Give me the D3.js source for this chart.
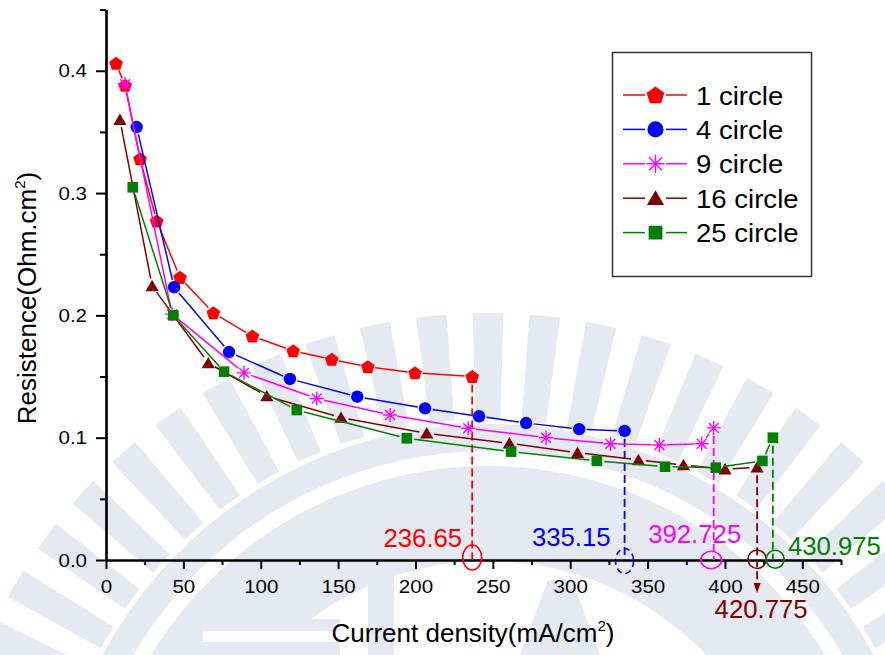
<!DOCTYPE html>
<html>
<head>
<meta charset="utf-8">
<script src="https://cdn.jsdelivr.net/npm/d3@7"></script>
<style>
  body { margin: 0; background: #ffffff; }
  svg { display: block; font-family: "Liberation Sans", Arial, Helvetica, sans-serif; }
</style>
</head>
<body>
<svg id="chart" width="885" height="655"></svg>
<script>
// ---- data -------------------------------------------------------------
const seriesNames   = ["1 circle", "4 circle", "9 circle", "16 circle", "25 circle"];
const seriesColors  = ["#ff0000", "#0000ff", "#ff00ff", "#800000", "#008000"];
const seriesSymbols = ["pentagon", "circle", "asterisk", "triangle", "square"];

// current density (mA/cm2) and resistance (Ohm.cm2) per series
const x1 = [6.5, 12.3, 22, 32.8, 47.8, 69.4, 94.6, 120.9, 145.9, 169.2, 199.7, 236.65];
const y1 = [0.406, 0.388, 0.328, 0.277, 0.231, 0.202, 0.183, 0.171, 0.164, 0.158, 0.153, 0.150];

const x4 = [19.8, 44, 79.5, 118.9, 162.4, 206.2, 241.1, 271.5, 305.8, 335.15];
const y4 = [0.354, 0.223, 0.170, 0.148, 0.1335, 0.124, 0.1175, 0.112, 0.107, 0.1055];

const x9 = [12.3, 42.7, 89.2, 136.2, 183.6, 234.1, 284.4, 326, 357.6, 385, 392.725];
const y9 = [0.389, 0.201, 0.153, 0.132, 0.1186, 0.1077, 0.100, 0.095, 0.094, 0.095, 0.108];

const x16 = [9, 29.8, 66.1, 103.9, 151.9, 207.3, 260.7, 304.7, 344.1, 373.2, 400.1, 420.775];
const y16 = [0.360, 0.224, 0.161, 0.134, 0.1164, 0.1036, 0.0954, 0.0877, 0.0818, 0.0777, 0.0742, 0.0758];

const x25 = [17.3, 43.5, 76.3, 123.3, 194.4, 261.8, 317.2, 361.3, 394.1, 424.2, 430.975];
const y25 = [0.3047, 0.200, 0.154, 0.1226, 0.0995, 0.0886, 0.081, 0.0763, 0.0755, 0.081, 0.100];

const seriesX = [x1, x4, x9, x16, x25];
const seriesY = [y1, y4, y9, y16, y25];

// limiting current density of each series
const limitValues = [236.65, 335.15, 392.725, 420.775, 430.975];

const xTicks      = [0, 50, 100, 150, 200, 250, 300, 350, 400, 450];
const xMinorTicks = [25, 75, 125, 175, 225, 275, 325, 375, 425, 475];
const yTicks      = [0.0, 0.1, 0.2, 0.3, 0.4];
const yMinorTicks = [0.05, 0.15, 0.25, 0.35, 0.45];

// ---- setup ------------------------------------------------------------
const svg = d3.select("#chart");
const x = d3.scaleLinear().domain([0, 475]).range([106, 841]);
const y = d3.scaleLinear().domain([0, 0.45]).range([560, 9.6]);

// text with a slight horizontal stretch
function stretchedText(g, tx, ty, sx) {
  return g.append("text").attr("transform", `translate(${tx},${ty}) scale(${sx},1)`);
}

// ---- faint background emblem -----------------------------------------
const wm = svg.append("g").attr("fill", "#e5e9f2").attr("transform", "translate(488,861)");
const arc = d3.arc();
for (let k = -14; k <= 14; k++) {
  const a = k * 0.104;
  wm.append("path").attr("d", arc({innerRadius: 442, outerRadius: 548, startAngle: a - 0.028, endAngle: a + 0.028}));
}
wm.append("path").attr("d", arc({innerRadius: 410, outerRadius: 437, startAngle: -1.7, endAngle: 1.7}));
wm.append("path").attr("d", arc({innerRadius: 300, outerRadius: 395, startAngle: -1.7, endAngle: 1.7}));
const wm2 = svg.append("g").attr("fill", "#e5e9f2");
wm2.append("rect").attr("x", 180).attr("y", 619).attr("width", 160).attr("height", 36);
wm2.append("rect").attr("x", 203).attr("y", 631).attr("width", 137).attr("height", 11).attr("fill", "#ffffff");
wm2.append("rect").attr("x", 368).attr("y", 572).attr("width", 26).attr("height", 83);
wm2.append("path").attr("d", "M520,655 L548,580 L572,580 L600,655 Z");

// ---- axes -------------------------------------------------------------
const fmtY = d3.format(".1f");
const tickStretch = 1.08;
const axisStyle = g => {
  g.selectAll(".domain").attr("stroke", "#000").attr("stroke-width", 2.2);
  g.selectAll(".tick line").attr("stroke", "#000").attr("stroke-width", 2);
  g.selectAll(".tick text").attr("fill", "#000").style("font-size", "19px")
    .style("font-family", '"Liberation Sans", Arial, sans-serif')
    .each(function () {
      const t = d3.select(this);
      const tx = +t.attr("x") || 0, ty = +t.attr("y") || 0;
      t.attr("x", 0).attr("y", 0).attr("transform", `translate(${tx},${ty}) scale(${tickStretch},1)`);
    });
};

svg.append("g").attr("transform", "translate(0,560)")
  .call(d3.axisBottom(x).tickValues(xMinorTicks).tickSize(5).tickFormat("").tickSizeOuter(0))
  .call(axisStyle);
svg.append("g").attr("transform", "translate(0,560)")
  .call(d3.axisBottom(x).tickValues(xTicks).tickSize(9).tickPadding(11).tickSizeOuter(0))
  .call(axisStyle);
svg.append("g").attr("transform", "translate(106,0)")
  .call(d3.axisLeft(y).tickValues(yMinorTicks).tickSize(6).tickFormat("").tickSizeOuter(0))
  .call(axisStyle);
svg.append("g").attr("transform", "translate(106,0)")
  .call(d3.axisLeft(y).tickValues(yTicks).tickSize(10).tickPadding(9).tickFormat(fmtY).tickSizeOuter(0))
  .call(axisStyle);

// axis titles
const yTitle = svg.append("text").attr("transform", "translate(36,298) rotate(-90)")
  .attr("text-anchor", "middle").style("font-size", "26px").attr("fill", "#000");
yTitle.append("tspan").text("Resistence(Ohm.cm");
yTitle.append("tspan").text("2").style("font-size", "15px").attr("dy", "-11");
yTitle.append("tspan").text(")").attr("dy", "11");

const xTitle = svg.append("text").attr("x", 473).attr("y", 642)
  .attr("text-anchor", "middle").style("font-size", "26px").attr("fill", "#000");
xTitle.append("tspan").text("Current density(mA/cm");
xTitle.append("tspan").text("2").style("font-size", "15px").attr("dy", "-11");
xTitle.append("tspan").text(")").attr("dy", "11");

// ---- marker shapes ----------------------------------------------------
function symbolPath(kind, s) {
  if (kind === "pentagon") {
    const R = 7.2 * s, pts = [];
    for (let i = 0; i < 5; i++) {
      const a = -Math.PI / 2 + i * 2 * Math.PI / 5;
      pts.push([R * Math.cos(a), R * Math.sin(a) + 0.6 * s]);
    }
    return "M" + pts.map(p => p.join(",")).join("L") + "Z";
  }
  if (kind === "circle") return d3.symbol(d3.symbolCircle, Math.PI * (6.2 * s) ** 2)();
  if (kind === "square") { const h = 5.3 * s; return `M${-h},${-h}H${h}V${h}H${-h}Z`; }
  if (kind === "triangle") { const w = 6.6 * s, t = 6.2 * s, b = 5.2 * s; return `M0,${-t}L${w},${b}L${-w},${b}Z`; }
  if (kind === "asterisk") {
    const r = 7 * s, d = r * Math.SQRT1_2;
    return `M${-r},0H${r}M0,${-r}V${r}M${-d},${-d}L${d},${d}M${-d},${d}L${d},${-d}`;
  }
}
function drawMarker(g, kind, color, px, py, s) {
  const p = g.append("path").attr("d", symbolPath(kind, s)).attr("transform", `translate(${px},${py})`);
  if (kind === "asterisk") p.attr("fill", "none").attr("stroke", color).attr("stroke-width", 1.4);
  else p.attr("fill", color).attr("stroke", "none");
}

// ---- limit guides (dashed drop lines, rings, labels) ------------------
const guides = svg.append("g");
const ringSpec = [
  {dx: 0,    cy: 557.5, rx: 9.5,  ry: 12.5, dash: null},
  {dx: 0,    cy: 561,   rx: 9,    ry: 12.5, dash: "6,4"},
  {dx: -2.5, cy: 560,   rx: 10.3, ry: 8.7,  dash: null},
  {dx: 0,    cy: 559.3, rx: 9.2,  ry: 9.2,  dash: null},
  {dx: 2.3,  cy: 559.3, rx: 9,    ry: 9,    dash: null}
];
const labelSpec = [
  {dx: -10, y: 547, anchor: "end"},
  {dx: -14, y: 546, anchor: "end"},
  {dx: -19, y: 543, anchor: "middle"},
  {dx: 4,   y: 618, anchor: "middle"},
  {dx: 15,  y: 555, anchor: "start"}
];
limitValues.forEach((v, i) => {
  const c = seriesColors[i];
  const px = x(v);
  const ys = seriesY[i];
  const py = y(ys[ys.length - 1]);
  const bottom = i === 3 ? 584 : y(0);
  guides.append("line").attr("x1", px).attr("x2", px).attr("y1", py + 8).attr("y2", bottom)
    .attr("stroke", c).attr("stroke-width", 1.8).attr("stroke-dasharray", "8,4");
  if (i === 3) {
    guides.append("path").attr("d", `M${px - 3.5},${bottom - 1}L${px + 3.5},${bottom - 1}L${px},${bottom + 9}Z`).attr("fill", c);
  }
  const r = ringSpec[i];
  guides.append("ellipse").attr("cx", px + r.dx).attr("cy", r.cy).attr("rx", r.rx).attr("ry", r.ry)
    .attr("fill", "none").attr("stroke", c).attr("stroke-width", 1.6)
    .attr("stroke-dasharray", r.dash);
  const l = labelSpec[i];
  stretchedText(guides, px + l.dx, l.y, 1.03).attr("text-anchor", l.anchor)
    .attr("fill", c).style("font-size", "25px").text(String(v));
});

// ---- series -----------------------------------------------------------
const gap = 7.5;
seriesNames.forEach((name, i) => {
  const g = svg.append("g");
  const pts = seriesX[i].map((xv, j) => [x(xv), y(seriesY[i][j])]);
  for (let j = 0; j < pts.length - 1; j++) {
    const [ax, ay] = pts[j], [bx, by] = pts[j + 1];
    const len = Math.hypot(bx - ax, by - ay);
    if (len <= 2 * gap) continue;
    const ux = (bx - ax) / len, uy = (by - ay) / len;
    g.append("line")
      .attr("x1", ax + ux * gap).attr("y1", ay + uy * gap)
      .attr("x2", bx - ux * gap).attr("y2", by - uy * gap)
      .attr("stroke", seriesColors[i]).attr("stroke-width", 1.5);
  }
  pts.forEach(p => drawMarker(g, seriesSymbols[i], seriesColors[i], p[0], p[1], 1));
});

// ---- legend -----------------------------------------------------------
const legend = svg.append("g");
legend.append("rect").attr("x", 612.5).attr("y", 52.5).attr("width", 199).attr("height", 224)
  .attr("fill", "#ffffff").attr("stroke", "#333").attr("stroke-width", 1.5);
seriesNames.forEach((name, i) => {
  const ry = 95 + i * 34.4;
  const c = seriesColors[i];
  legend.append("line").attr("x1", 623).attr("x2", 645).attr("y1", ry).attr("y2", ry).attr("stroke", c).attr("stroke-width", 1.5);
  legend.append("line").attr("x1", 666).attr("x2", 687).attr("y1", ry).attr("y2", ry).attr("stroke", c).attr("stroke-width", 1.5);
  drawMarker(legend, seriesSymbols[i], c, 655.5, ry, 1.3);
  stretchedText(legend, 696, ry + 9.5, 1.06).style("font-size", "26px").attr("fill", "#000").text(name);
});
</script>
</body>
</html>
